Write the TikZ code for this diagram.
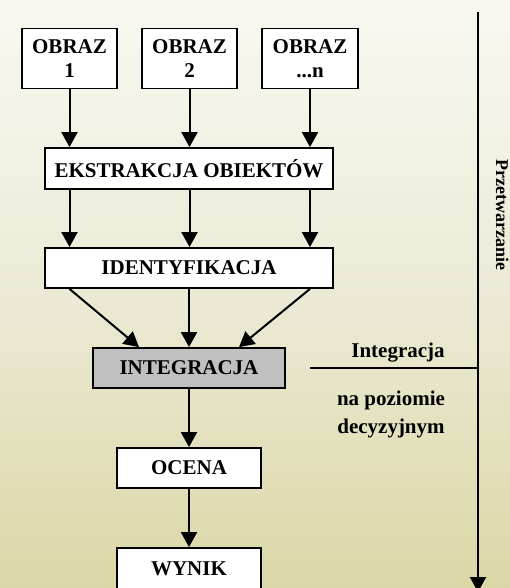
\documentclass[tikz,border=0pt]{standalone}
\usepackage{fontspec}
\setmainfont{Liberation Serif}
\usepackage{xcolor}
\usetikzlibrary{arrows.meta, positioning, calc}
\definecolor{bgTop}{RGB}{248,248,241}
\definecolor{bgMid}{RGB}{236,234,214}
\definecolor{bgBot}{RGB}{219,215,166}
\definecolor{integGray}{RGB}{192,192,192}
\tikzset{
    stageBox/.style={rectangle, draw=black, fill=white, line width=1.8pt, inner sep=0pt, align=center, font=\fontsize{21}{24}\selectfont\bfseries},
    sideText/.style={align=center, inner sep=0pt, font=\fontsize{21}{28}\selectfont\bfseries},
    flowArrow/.style={-{Triangle[length=15pt, width=16pt]}, line width=2pt}
}

\begin{document}
\begin{tikzpicture}[x=1pt, y=-1pt]
    \shade[top color=bgTop, bottom color=bgBot, middle color=bgMid] (0,0) rectangle (510,588);
    \useasboundingbox (0,0) rectangle (510,588);
    % images
    \node[stageBox, minimum width=95pt, minimum height=60pt] (obraz1) at (69.5,58.5) {OBRAZ\\1};
    \node[stageBox, minimum width=95pt, minimum height=60pt] (obraz2) at (189.5,58.5) {OBRAZ\\2};
    \node[stageBox, minimum width=96pt, minimum height=60pt] (obrazn) at (310,58.5) {OBRAZ\\...n};
    % processing chain
    \node[stageBox, minimum width=288pt, minimum height=41pt] (ekstr) at (189,168.5) {EKSTRAKCJA OBIEKTÓW};
    \node[stageBox, minimum width=288pt, minimum height=40pt] (ident) at (189,268) {IDENTYFIKACJA};
    \node[stageBox, fill=integGray, minimum width=192pt, minimum height=40pt] (integ) at (189,368) {INTEGRACJA};
    \node[stageBox, minimum width=144pt, minimum height=40pt] (ocena) at (189,468) {OCENA};
    \node[stageBox, minimum width=144pt, minimum height=41pt] (wynik) at (189,568.5) {WYNIK};
    \foreach \src in {obraz1, obraz2, obrazn}{
        \draw[flowArrow] (\src.south) -- (\src |- ekstr.north);
        \draw[flowArrow] (\src |- ekstr.south) -- (\src |- ident.north);
    }
    \draw[flowArrow] (obraz1 |- ident.south) -- ($(integ.north)+(-50,0)$);
    \draw[flowArrow] (ident.south) -- (integ.north);
    \draw[flowArrow] (obrazn |- ident.south) -- ($(integ.north)+(50,0)$);
    \draw[flowArrow] (integ) -- (ocena);
    \draw[flowArrow] (ocena) -- (wynik);
    % processing axis
    \coordinate (axTop) at (478,12);
    \coordinate (axEnd) at (478,592);
    \draw[flowArrow] (axTop) -- (axEnd);
    \draw[line width=2pt] (obrazn |- integ) -- (axTop |- integ);
    \node[sideText, anchor=base] (integLbl) at (398,357) {Integracja};
    \node[sideText, anchor=base] (poziomLbl) at (391,433) {na poziomie\\decyzyjnym};
    \node[sideText, font=\fontsize{18}{20}\selectfont\bfseries, rotate=-90, anchor=base] (przetw) at (496,215) {Przetwarzanie};
\end{tikzpicture}
\end{document}
